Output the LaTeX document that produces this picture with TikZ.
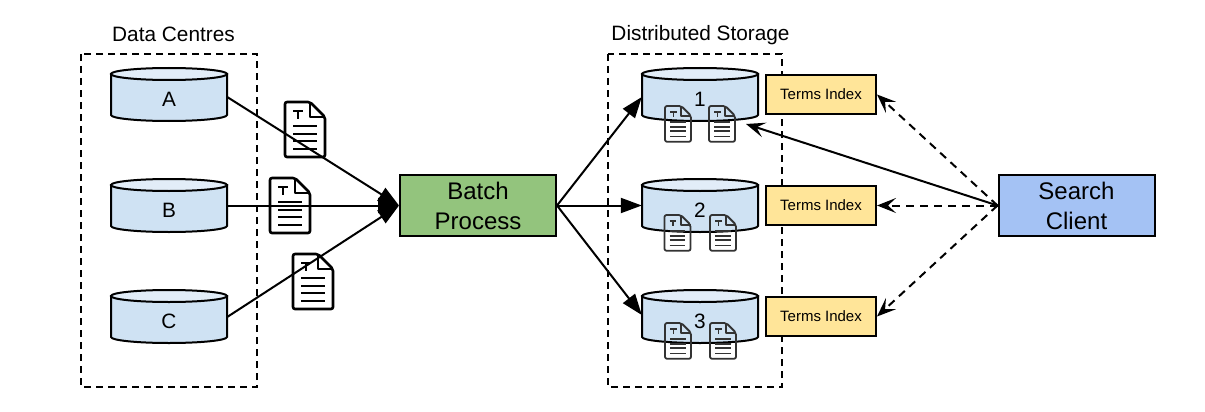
\documentclass[tikz,border=0pt]{standalone}
\usepackage{fontspec}
\setmainfont{Liberation Sans}
\usetikzlibrary{arrows.meta}
\definecolor{cylbody}{HTML}{CFE2F3}
\definecolor{cyltop}{HTML}{E2EDF8}
\definecolor{batchgreen}{HTML}{93C47D}
\definecolor{termyellow}{HTML}{FFE599}
\definecolor{clientblue}{HTML}{A4C2F4}
\tikzset{
  every picture/.style={x=1pt,y=-1pt},
  ln/.style={line width=2pt,black},
  grouprect/.style={draw,line width=2pt,dashed,dash pattern=on 7pt off 5pt},
  grouptitle/.style={font=\fontsize{20.8}{25}\selectfont,inner sep=0pt},
  procbox/.style={draw,line width=2pt,minimum width=156pt,minimum height=61pt,inner sep=0pt,align=center,text width=150pt,font=\fontsize{24}{30}\selectfont},
  termbox/.style={draw,line width=2pt,fill=termyellow,minimum width=110pt,minimum height=39pt,inner sep=0pt,font=\fontsize{15}{18}\selectfont},
  cylnode/.style={minimum width=116pt,minimum height=54pt,inner sep=0pt},
  solidarrow/.style={ln,-{Triangle[length=21pt,width=15pt]},shorten <=0pt},
  openarrow/.style={-{Stealth[length=19pt,width=15pt,inset=8pt]}},
  docline/.style={line width=2.6pt,line join=round},
  pics/docicon/.style={code={
    \draw[docline,rounded corners=2pt] (0,0) -- (25,0) -- (40,15) -- (40,55) -- (0,55) -- cycle;
    \draw[docline] (25,0) -- (25,15) -- (40,15);
    \draw[docline] (8,9) -- (18,9) (13,9) -- (13,17);
    \draw[docline] (8,24) -- (32,24) (8,32) -- (32,32) (8,39) -- (32,39) (8,47) -- (32,47);
  }},
  pics/cyl/.style={code={
    \draw[ln,fill=cylbody] (-58,-21) -- (-58,20) arc[start angle=180,end angle=360,x radius=58,y radius=-6] -- (58,-21) -- cycle;
    \draw[ln,fill=cyltop] (0,-21) ellipse[x radius=58,y radius=6];
  }},
  smalldoc/.style={scale=.65,docline/.style={line width=1.8pt,line join=round,draw=black!80}},
}
\begin{document}
\begin{tikzpicture}
\useasboundingbox (0,0) rectangle (1205,412);
% groups
\draw[grouprect] (81,54) rectangle (257,387);
\draw[grouprect] (608,54) rectangle (782,387);
\node[grouptitle] (tdc) at (173.5,34) {Data Centres};
\node[grouptitle] (tds) at (700.5,35.5) {Distributed Storage};
% source documents
\pic at (285,102) {docicon};
\pic at (270,178) {docicon};
\pic at (293,254) {docicon};
% cylinders
\pic at (169,95) {cyl};
\pic at (169,206) {cyl};
\pic at (169,317) {cyl};
\pic at (700,95) {cyl};
\pic at (700,206) {cyl};
\pic at (700,317) {cyl};
\node[cylnode] (a) at (169,97) {};
\node[cylnode] (b) at (169,205.5) {};
\node[cylnode] (c) at (169,317) {};
\node[cylnode] (d1) at (700,97) {};
\node[cylnode] (d2) at (700,205.5) {};
\node[cylnode] (d3) at (700,315) {};
\node[grouptitle] (la) at (169,99) {A};
\node[grouptitle] (lb) at (169,210) {B};
\node[grouptitle] (lc) at (169,321) {C};
\node[grouptitle] (l1) at (700,99) {1};
\node[grouptitle] (l2) at (700,210) {2};
\node[grouptitle] (l3) at (700,321) {3};
% stored documents
\pic[smalldoc] at (665,106) {docicon};
\pic[smalldoc] at (709,106) {docicon};
\pic[smalldoc] at (664.5,215) {docicon};
\pic[smalldoc] at (710,215) {docicon};
\pic[smalldoc] at (665,323) {docicon};
\pic[smalldoc] at (710,323) {docicon};
% process boxes
\node[procbox,fill=batchgreen] (batch) at (478,205.5) {Batch\\Process};
\node[procbox,fill=clientblue] (client) at (1076.5,205.5) {Search\\Client};
\node[termbox] (t1) at (821,94.5) {Terms Index};
\node[termbox] (t2) at (821,205.5) {Terms Index};
\node[termbox] (t3) at (821,316.5) {Terms Index};
\coordinate (d1in) at (746,124);
% connectors
\draw[solidarrow] (a.east) -- (batch.west);
\draw[solidarrow] (b.east) -- (batch.west);
\draw[solidarrow] (c.east) -- (batch.west);
\draw[solidarrow] (batch.east) -- (d1.west);
\draw[solidarrow] (batch.east) -- (d2.west);
\draw[solidarrow] (batch.east) -- (d3.west);
\draw[ln,openarrow] (client.west) -- (d1in);
\draw[ln,dashed,dash pattern=on 8pt off 6pt,openarrow] (client.west) -- (t1.east);
\draw[ln,dashed,dash pattern=on 8pt off 6pt,openarrow] (client.west) -- (t2.east);
\draw[ln,dashed,dash pattern=on 8pt off 6pt,openarrow] (client.west) -- (t3.east);
\end{tikzpicture}
\end{document}
